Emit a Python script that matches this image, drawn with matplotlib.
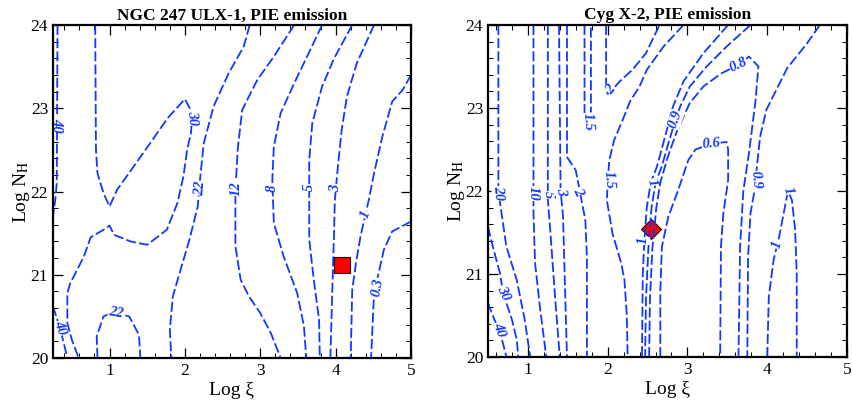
import matplotlib
matplotlib.use("Agg")
import matplotlib.pyplot as plt
from matplotlib.ticker import MultipleLocator

plt.rcParams['font.family'] = ['Liberation Serif', 'DejaVu Serif']
plt.rcParams['mathtext.fontset'] = 'stix'

# ---- NGC 247 ULX-1 contour lines (Log xi, Log NH) ----
ngc_40a = [(0.31, 24.0), (0.30, 22.1), (0.28, 21.9), (0.25, 21.7)]
ngc_40b = [(0.25, 20.62), (0.35, 20.34), (0.44, 20.0)]
ngc_30 = [(0.81, 24.0), (0.82, 22.5), (0.84, 22.22), (0.92, 21.98), (1.0, 21.82),
          (1.10, 22.02), (1.50, 22.53), (1.77, 22.88), (2.0, 23.11), (2.10, 22.94),
          (2.08, 22.7), (2.03, 22.5), (1.98, 22.18), (1.90, 21.86), (1.76, 21.54),
          (1.50, 21.36), (1.28, 21.40), (1.06, 21.48), (1.0, 21.59), (0.92, 21.54),
          (0.75, 21.45), (0.66, 21.22), (0.48, 20.90), (0.44, 20.78), (0.44, 20.42),
          (0.50, 20.22), (0.59, 20.0)]
ngc_22a = [(2.86, 24.0), (2.78, 23.74), (2.58, 23.42), (2.38, 23.02), (2.25, 22.58),
           (2.20, 22.14), (2.17, 21.82), (2.06, 21.42), (1.93, 21.02), (1.84, 20.74),
           (1.80, 20.34), (1.82, 20.0)]
ngc_22b = [(0.84, 20.0), (0.83, 20.26), (0.92, 20.50), (1.05, 20.55), (1.26, 20.50),
           (1.39, 20.28), (1.41, 20.0)]
ngc_12 = [(3.45, 24.0), (3.18, 23.62), (2.96, 23.34), (2.76, 22.98), (2.70, 22.5),
          (2.67, 22.0), (2.67, 21.34), (2.74, 20.94), (2.85, 20.74), (3.0, 20.54),
          (3.14, 20.30), (3.27, 20.0)]
ngc_8 = [(3.82, 24.0), (3.62, 23.62), (3.45, 23.30), (3.27, 22.94), (3.18, 22.54),
         (3.16, 22.14), (3.18, 21.62), (3.31, 21.22), (3.49, 20.78), (3.58, 20.38),
         (3.61, 20.0)]
ngc_5 = [(4.22, 24.0), (3.98, 23.6), (3.82, 23.26), (3.69, 22.82), (3.65, 22.38),
         (3.65, 21.42), (3.71, 20.94), (3.78, 20.46), (3.79, 20.0)]
ngc_3 = [(4.51, 24.0), (4.28, 23.54), (4.15, 23.14), (4.08, 22.74), (4.03, 22.30),
         (3.99, 21.9), (3.98, 21.54), (3.96, 20.94), (3.93, 20.0)]
ngc_1 = [(5.0, 23.40), (4.89, 23.22), (4.75, 23.08), (4.62, 22.66), (4.51, 22.22),
         (4.44, 21.9), (4.40, 21.74), (4.33, 21.46), (4.27, 21.14), (4.22, 20.82),
         (4.20, 20.0)]
ngc_03 = [(5.0, 21.64), (4.75, 21.52), (4.64, 21.30), (4.56, 20.98), (4.51, 20.78),
          (4.47, 20.0)]
ngc_lines = [ngc_40a, ngc_40b, ngc_30, ngc_22a, ngc_22b, ngc_12, ngc_8, ngc_5,
             ngc_3, ngc_1, ngc_03]
ngc_labels = [("40", 0.30, 22.8, -90), ("40", 0.35, 20.36, -70), ("30", 2.10, 22.88, -85),
              ("22", 2.20, 22.04, 85), ("22", 1.08, 20.54, -10), ("12", 2.68, 22.04, 90),
              ("8", 3.16, 22.04, 90), ("5", 3.65, 22.05, 90), ("3", 4.00, 22.04, 90),
              ("1", 4.40, 21.72, 70), ("0.3", 4.56, 20.85, 80)]
ngc_best = (4.09, 21.12)

# ---- Cyg X-2 contour lines ----
cyg_40 = [(0.5, 20.65), (0.58, 20.45), (0.64, 20.33), (0.70, 20.12), (0.73, 20.0)]
cyg_30 = [(0.5, 21.57), (0.56, 21.33), (0.65, 21.01), (0.69, 20.77), (0.80, 20.45),
          (0.86, 20.21), (0.88, 20.0)]
cyg_20 = [(0.63, 24.0), (0.63, 22.0), (0.67, 21.73), (0.73, 21.33), (0.86, 20.93),
          (0.96, 20.45), (1.03, 20.0)]
cyg_10 = [(1.07, 24.0), (1.07, 21.73), (1.09, 21.13), (1.15, 20.61), (1.23, 20.0)]
cyg_5 = [(1.25, 24.0), (1.25, 21.9), (1.28, 21.53), (1.34, 20.73), (1.40, 20.0)]
cyg_3 = [(1.39, 24.0), (1.41, 22.0), (1.44, 21.7), (1.49, 20.0)]
cyg_2 = [(1.49, 24.0), (1.49, 22.41), (1.60, 22.25), (1.64, 22.05), (1.72, 21.65),
         (1.74, 21.2), (1.74, 20.0)]
cyg_15a = [(1.71, 24.0), (1.71, 22.92), (1.75, 22.82), (1.79, 22.92), (1.79, 24.0)]
cyg_2b = [(1.98, 24.0), (1.98, 23.30), (2.0, 23.17), (2.06, 23.22), (2.15, 23.32),
          (2.31, 23.46), (2.48, 23.66), (2.65, 24.0)]
cyg_15 = [(2.95, 24.0), (2.70, 23.74), (2.49, 23.46), (2.40, 23.26), (2.28, 23.08),
          (2.19, 22.86), (2.08, 22.61), (2.02, 22.37), (2.00, 22.1), (1.99, 21.89),
          (2.06, 21.49), (2.17, 21.13), (2.21, 20.93), (2.24, 20.5), (2.25, 20.0)]
cyg_1 = [(3.51, 24.0), (3.20, 23.66), (2.95, 23.32), (2.82, 23.02), (2.74, 22.73),
         (2.62, 22.3), (2.54, 22.1), (2.49, 21.8), (2.46, 21.4), (2.44, 21.0), (2.43, 20.0)]
cyg_09a = [(3.79, 24.0), (3.49, 23.74), (3.24, 23.50), (3.03, 23.26), (2.91, 23.02),
           (2.85, 22.86), (2.76, 22.57), (2.68, 22.3), (2.60, 22.1), (2.55, 21.8),
           (2.51, 21.3), (2.48, 20.7), (2.47, 20.0)]
cyg_08 = [(2.52, 20.0), (2.53, 20.7), (2.56, 21.3), (2.61, 21.8), (2.66, 22.1),
          (2.75, 22.4), (2.86, 22.7), (2.97, 22.94), (3.03, 23.06), (3.20, 23.26),
          (3.43, 23.42), (3.64, 23.52), (3.77, 23.62), (3.89, 23.50), (3.85, 23.06),
          (3.77, 22.45), (3.70, 22.0), (3.66, 21.33), (3.64, 20.0)]
cyg_06 = [(2.66, 20.0), (2.66, 20.8), (2.68, 21.33), (2.76, 21.69), (2.88, 22.0),
          (2.95, 22.2), (3.01, 22.37), (3.10, 22.50), (3.30, 22.57), (3.49, 22.59),
          (3.51, 22.5), (3.51, 22.13), (3.45, 21.73), (3.42, 21.33), (3.41, 20.0)]
cyg_09b = [(4.66, 24.0), (4.50, 23.78), (4.25, 23.48), (3.99, 22.98), (3.91, 22.65),
           (3.87, 22.29), (3.84, 22.0), (3.79, 21.73), (3.76, 21.2), (3.75, 20.0)]
cyg_1b = [(4.00, 20.0), (4.02, 20.73), (4.08, 21.17), (4.15, 21.45), (4.22, 21.8),
          (4.26, 22.0), (4.31, 21.89), (4.35, 21.53), (4.37, 21.0), (4.37, 20.0)]
cyg_lines = [cyg_40, cyg_30, cyg_20, cyg_10, cyg_5, cyg_3, cyg_2, cyg_15a, cyg_2b,
             cyg_15, cyg_1, cyg_09a, cyg_08, cyg_06, cyg_09b, cyg_1b]
cyg_labels = [("20", 0.63, 21.97, -85), ("30", 0.69, 20.77, -65), ("40", 0.64, 20.33, -70),
              ("10", 1.07, 21.97, -90), ("5", 1.25, 21.95, -90), ("3", 1.41, 21.99, -85),
              ("2", 1.63, 21.99, -65), ("1.5", 1.75, 22.83, -85), ("2", 2.04, 23.22, 50),
              ("1.5", 2.01, 22.13, -85), ("1", 2.55, 22.1, -75), ("1", 2.45, 21.40, 90),
              ("0.9", 2.85, 22.86, 70), ("0.8", 3.64, 23.52, 25), ("0.6", 3.30, 22.57, 5),
              ("0.9", 3.86, 22.13, -85), ("1", 4.26, 22.0, -75), ("1", 4.13, 21.35, 75)]
cyg_best = (2.54, 21.54)

blue = '#1038ff'

fig = plt.figure(figsize=(8.52, 4.13), dpi=100)
ax1 = fig.add_axes([53 / 852, 55 / 413, 358 / 852, 333 / 413])
ax2 = fig.add_axes([488 / 852, 56 / 413, 359 / 852, 332 / 413])


def draw_panel(ax, lines, labels, title, xmin):
    for ln in lines:
        xs = [p[0] for p in ln]
        ys = [p[1] for p in ln]
        ax.plot(xs, ys, color=blue, lw=1.3, dashes=(5.5, 1.8), zorder=2)
    for txt, x, y, rot in labels:
        ax.text(x, y, txt, color=blue, fontsize=10.5, fontstyle='italic', fontweight='bold',
                rotation=rot, ha='center', va='center', rotation_mode='anchor', zorder=2.2,
                bbox=dict(facecolor='white', edgecolor='none', pad=0.1))
    ax.set_xlim(xmin, 5)
    ax.set_ylim(20, 24)
    ax.set_xticks([1, 2, 3, 4, 5])
    ax.set_yticks([20, 21, 22, 23, 24])
    ax.xaxis.set_minor_locator(MultipleLocator(0.2))
    ax.yaxis.set_minor_locator(MultipleLocator(0.2))
    ax.tick_params(which='both', direction='in', top=True, right=True, labelsize=12.5)
    ax.tick_params(which='major', length=7, width=0.9)
    ax.tick_params(which='minor', length=3.5, width=0.7)
    for s in ax.spines.values():
        s.set_linewidth(1.6)
    ax.set_xlabel('Log ξ', fontsize=14, labelpad=2)
    ax.set_ylabel('Log N$_{\\mathrm{H}}$', fontsize=14, labelpad=-1)
    ax.set_title(title, fontsize=12.5, fontweight='bold', pad=4)


draw_panel(ax1, ngc_lines, ngc_labels, 'NGC 247 ULX-1, PIE emission', 0.25)
draw_panel(ax2, cyg_lines, cyg_labels, 'Cyg X-2, PIE emission', 0.5)

ax1.plot(*ngc_best, marker='s', markersize=11, markerfacecolor='red',
         markeredgecolor='#300000', markeredgewidth=0.8, zorder=5)
ax2.plot(*cyg_best, marker='D', markersize=10, markerfacecolor='red',
         markeredgecolor='#300000', markeredgewidth=0.8, zorder=1.5)

fig.savefig('out.png', dpi=100)
